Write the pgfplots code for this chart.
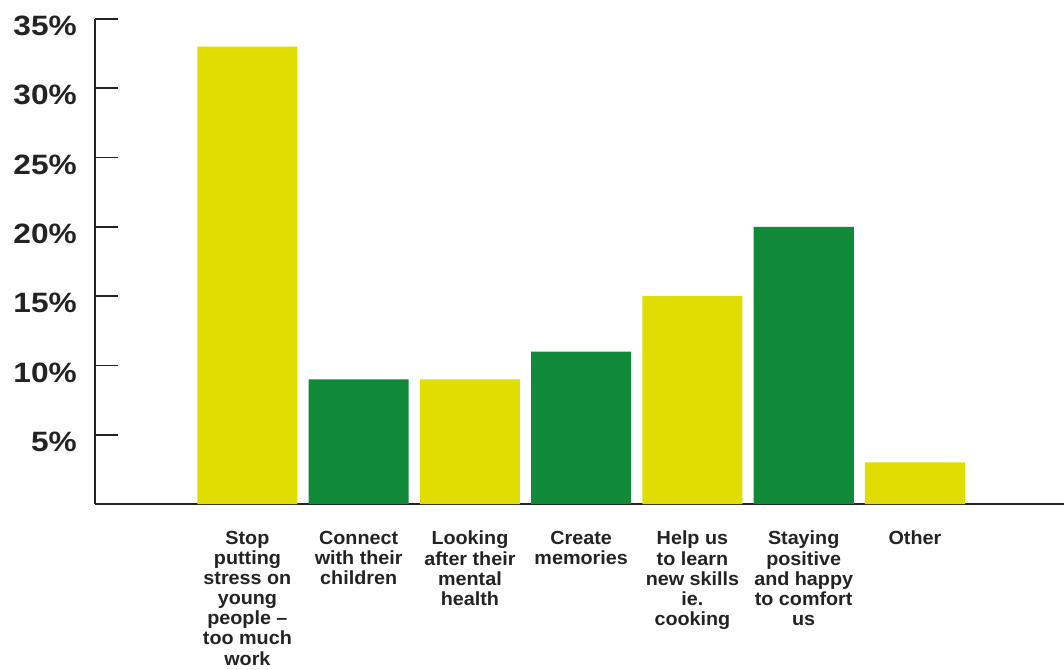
\documentclass[border=0pt]{standalone}
\usepackage{pgfplots}
\pgfplotsset{compat=1.18}
\usepackage{fontspec}
\setmainfont{Liberation Sans}
\newfontfamily\ywide[FakeStretch=1.13]{Liberation Sans}
\newfontfamily\xwide[FakeStretch=1.04]{Liberation Sans}
\definecolor{cyellow}{RGB}{224,222,0}
\definecolor{cgreen}{RGB}{16,137,57}
\definecolor{axisc}{RGB}{35,35,35}
\begin{document}
\begin{tikzpicture}[x=1pt,y=1pt]
\useasboundingbox (0,0) rectangle (1064,669);
\begin{axis}[
  at={(95pt,165pt)}, anchor=south west,
  scale only axis, width=969pt, height=485pt,
  xmin=-1.37, xmax=7.34, ymin=0, ymax=35,
  axis lines=left,
  axis line style={-, line width=1.6pt, axisc},
  tick align=inside,
  major tick length=23pt,
  ytick={0,5,10,15,20,25,30,35},
  yticklabels={,5\%,10\%,15\%,20\%,25\%,30\%,35\%},
  ytick style={line width=1.6pt, axisc},
  yticklabel style={font=\ywide\bfseries\fontsize{28}{30}\selectfont, text=axisc, inner sep=0pt, xshift=-18pt, yshift=-7pt, anchor=east},
  xtick={0,1,2,3,4,5,6},
  xtick style={draw=none},
  xticklabels={
    {Stop\\putting\\stress on\\young\\people –\\too much\\work},
    {Connect\\with their\\children},
    {Looking\\after their\\mental\\health},
    {Create\\memories},
    {Help us\\to learn\\new skills\\ie.\\cooking},
    {Staying\\positive\\and happy\\to comfort\\us},
    {Other}},
  xticklabel style={font=\xwide\bfseries\fontsize{19}{20.1}\selectfont, text=axisc, align=center, anchor=north, inner sep=0pt, yshift=-4pt},
  ybar, bar width=0.9, bar shift=0pt,
  clip=false,
]
\addplot[fill=cyellow, draw=none] coordinates {(0,33) (2,9) (4,15) (6,3)};
\addplot[fill=cgreen, draw=none] coordinates {(1,9) (3,11) (5,20)};
\end{axis}
\end{tikzpicture}
\end{document}
